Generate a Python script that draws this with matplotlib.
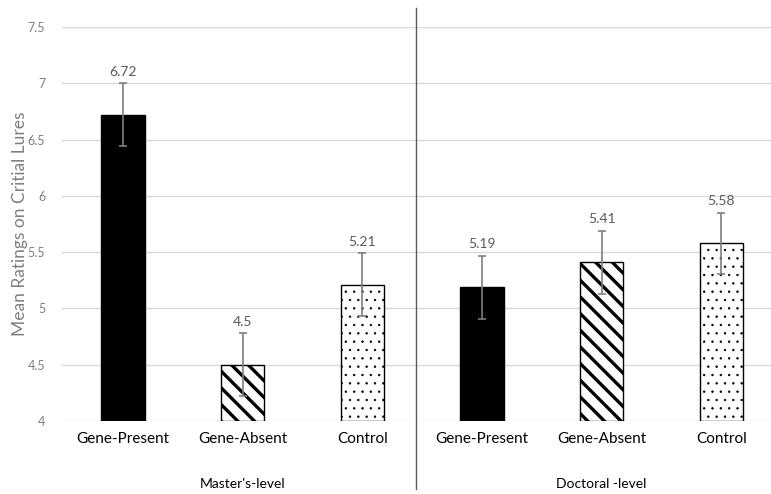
import matplotlib
matplotlib.use("Agg")
import matplotlib.pyplot as plt
from matplotlib.lines import Line2D
import matplotlib.transforms as mtransforms

categories = ["Gene-Present", "Gene-Absent", "Control", "Gene-Present", "Gene-Absent", "Control"]
groups = ["Master's-level", "Doctoral -level"]
means = [6.72, 4.5, 5.21, 5.19, 5.41, 5.58]
errors = [0.28, 0.28, 0.28, 0.28, 0.28, 0.27]
yticks = [4, 4.5, 5, 5.5, 6, 6.5, 7, 7.5]
ytick_labels = ["4", "4.5", "5", "5.5", "6", "6.5", "7", "7.5"]

plt.rcParams['font.family'] = ['Lato', 'DejaVu Sans']

W, H = 771, 494
fig = plt.figure(figsize=(W / 100, H / 100), dpi=100)
ax = fig.add_axes([62 / W, (H - 421) / H, 712 / W, (421 - 27) / H])

xs = list(range(len(means)))
styles = [("black", None, 1.0), ("white", "\\\\", 2.4), ("white", "..", 0.5),
          ("black", None, 1.0), ("white", "\\\\", 2.4), ("white", "..", 0.5)]
for x, m, (fc, hatch, hlw) in zip(xs, means, styles):
    with plt.rc_context({'hatch.linewidth': hlw}):
        bars = ax.bar(x, m - 4, bottom=4, width=0.36, color=fc, edgecolor="black",
                      hatch=hatch, linewidth=1.0, zorder=3)
    for b in bars:
        if hasattr(b, "set_hatch_linewidth"):
            b.set_hatch_linewidth(hlw)
ax.errorbar(xs, means, yerr=errors, fmt="none", ecolor="#7f7f7f",
            elinewidth=1.2, capsize=3, capthick=1.2, zorder=4)
for x, m, e in zip(xs, means, errors):
    ax.text(x, m + e + 0.05, f"{m:g}", ha="center", va="bottom",
            fontsize=10, color="#595959")

ax.set_xlim(-0.51, 5.44)
ax.set_ylim(4, 7.5)
ax.set_yticks(yticks)
ax.set_yticklabels(ytick_labels, color="#7f7f7f", fontsize=9)
ax.yaxis.grid(True, color="#d9d9d9", linewidth=1.0, zorder=0)
ax.set_axisbelow(True)
ax.tick_params(axis="both", length=0)
ax.tick_params(axis="y", pad=12)
for s in ax.spines.values():
    s.set_visible(False)
ax.set_xticks(xs)
ax.set_xticklabels(categories, fontsize=11, color="black")
ax.tick_params(axis="x", pad=8)
ax.set_ylabel("Mean Ratings on Critial Lures", fontsize=12.5, color="#7f7f7f")
ax.yaxis.set_label_coords((28 - 62) / 712, 0.5)

# group labels
blend = mtransforms.blended_transform_factory(ax.transData, fig.transFigure)
for gx, g in zip([1, 4], groups):
    ax.text(gx, 1 - 484 / H, g, ha="center", va="center", fontsize=10, color="black",
            transform=blend)

# divider line
fig.add_artist(Line2D([416 / W, 416 / W], [1 - 8 / H, 1 - 489 / H],
                      color="#595959", linewidth=1.0, transform=fig.transFigure))

fig.savefig("out.png", dpi=100)
